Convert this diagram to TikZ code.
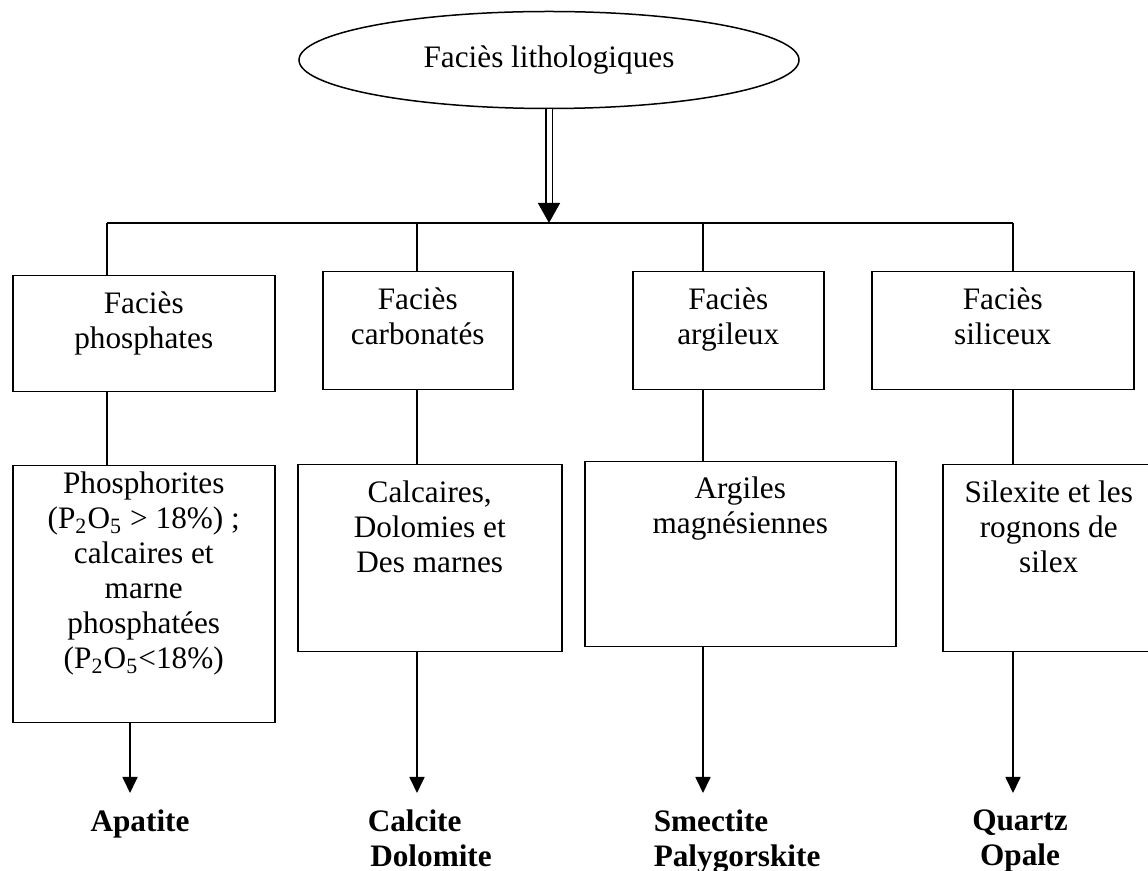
\documentclass[tikz,border=0pt]{standalone}
\usepackage{fontspec}
\setmainfont{Liberation Serif}
\usetikzlibrary{shapes.geometric,arrows.meta}
\newdimen\unitpx
\unitpx=0.4pt
\newcommand{\cadre}[4]{\parbox[c][#2\unitpx][t]{#1\unitpx}{\centering\rule{0pt}{#3\unitpx}#4}}
\begin{document}
\begin{tikzpicture}[x=0.4pt,y=-0.4pt,line width=0.6pt,
		boite/.style={draw,inner sep=0pt,anchor=north west,font=\fontsize{12.5}{14}\selectfont},
		mineral/.style={inner sep=0pt,font=\fontsize{12.5}{14}\selectfont\bfseries},
		fleche/.style={line width=0.7pt,-{Triangle[width=6pt,length=6.4pt]}}]
		\useasboundingbox (0,0) rectangle (1148,871);
		\node[draw,ellipse,inner sep=0pt,minimum width=200pt,minimum height=38.8pt,font=\fontsize{12.5}{14}\selectfont] (litho) at (549,60) {\raisebox{2.4pt}{Faciès lithologiques}};
		% les quatre faciès
		\node[boite] (A1) at (12,275) {\cadre{262}{116}{38}{Faciès\\phosphates}};
		\node[boite] (A2) at (322,271) {\cadre{190}{118}{38}{Faciès\\carbonatés}};
		\node[boite] (A3) at (632,271) {\cadre{191}{118}{38}{Faciès\\argileux}};
		\node[boite] (A4) at (871,271) {\cadre{262}{118}{38}{Faciès\\siliceux}};
		% les roches
		\node[boite] (B1) at (12,465) {\cadre{262}{257}{28}{Phosphorites\\(P\textsubscript{2}O\textsubscript{5} > 18\%) ;\\calcaires et\\marne\\phosphatées\\(P\textsubscript{2}O\textsubscript{5}<18\%)}};
		\node[boite] (B2) at (297,464) {\cadre{264}{187}{38}{Calcaires,\\Dolomies et\\Des marnes}};
		\node[boite] (B3) at (584,461) {\cadre{311}{185}{37}{Argiles\\magnésiennes}};
		\node[boite] (B4) at (942,464) {\cadre{212}{187}{38}{Silexite et les\\rognons de\\silex}};
		% les minéraux
		\node[mineral,anchor=north] (apatite) at (140,809) {Apatite};
		\node[mineral,anchor=north west,align=left] (calcite) at (367,809) {Calcite\\\hspace{1pt}Dolomite};
		\node[mineral,anchor=north west,align=left] (smectite) at (653,809) {Smectite\\Palygorskite};
		\node[mineral,anchor=north,align=center] (quartz) at (1020,809) {Quartz\\Opale};
		\coordinate (jc) at (549,223);
		\foreach \n/\x in {1/107,2/417,3/703,4/1013}
			\coordinate (j\n) at (\x,223);
		\draw (j1) -- (j4);
		\draw[double,double distance=2pt,shorten >=7.6pt] (litho.south) -- (jc);
		\draw[-{Triangle[width=8.8pt,length=8pt]}] ([yshift=8pt]jc) -- (jc);
		\foreach \n in {1,...,4} {
			\draw (j\n) -- (j\n |- A\n.north);
			\draw (j\n |- A\n.south) -- (j\n |- B\n.north);
		}
		\foreach \n/\x in {1/130,2/417,3/703,4/1013} {
			\coordinate (t\n) at (\x,793);
			\draw[fleche] (B\n.south -| t\n) -- (t\n);
		}
	\end{tikzpicture}
\end{document}
